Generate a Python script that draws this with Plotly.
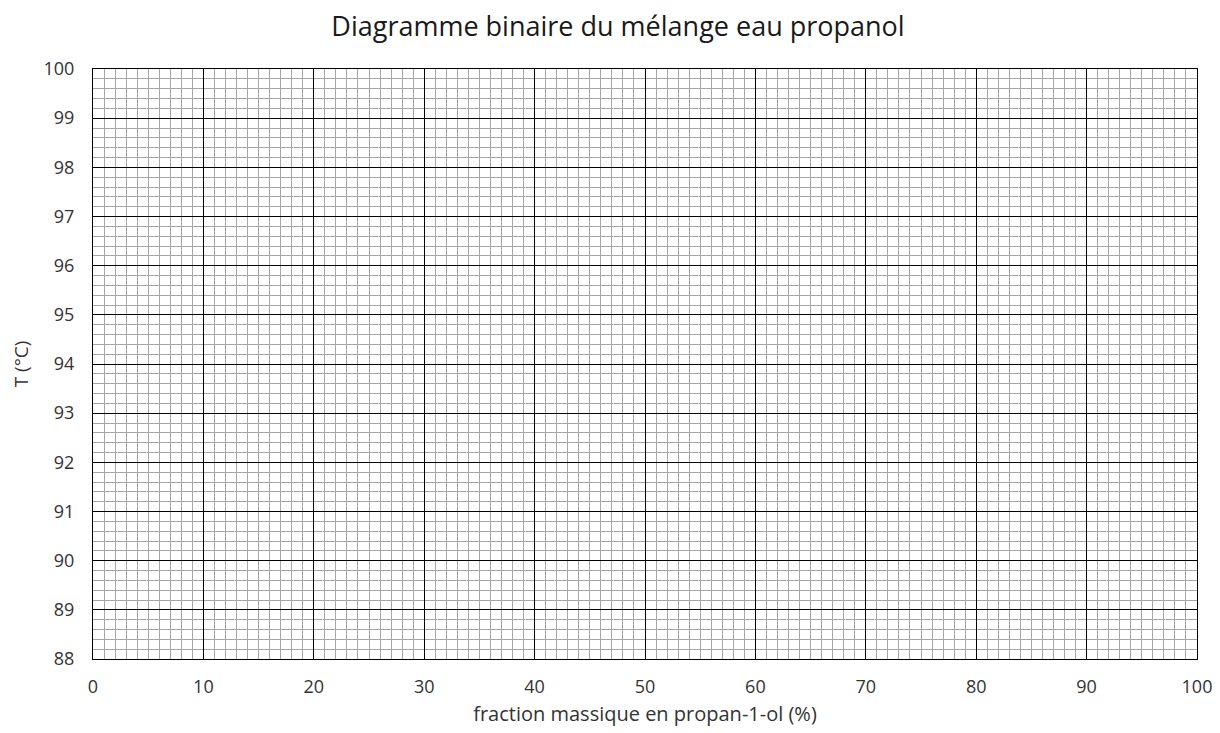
import plotly.graph_objects as go

x_range = [0, 100]
y_range = [88, 100]
x_ticks = [0, 10, 20, 30, 40, 50, 60, 70, 80, 90, 100]
y_ticks = [88, 89, 90, 91, 92, 93, 94, 95, 96, 97, 98, 99, 100]
title = "Diagramme binaire du mélange eau propanol"
x_title = "fraction massique en propan-1-ol (%)"
y_title = "T (°C)"

fig = go.Figure()
fig.add_trace(go.Scatter(x=[], y=[], mode="lines", showlegend=False))

font_family = "Open Sans, Liberation Sans, sans-serif"

fig.update_layout(
    width=1220, height=733,
    paper_bgcolor="white", plot_bgcolor="white",
    margin=dict(l=85, r=31, t=61, b=82),
    title=dict(text=title, x=0.5, xanchor="center", yref="container", y=0.975, yanchor="middle",
               font=dict(family=font_family, size=27, color="#1a1a1a")),
    font=dict(family=font_family, size=18, color="#333"),
    xaxis=dict(range=x_range, tickvals=x_ticks, showgrid=True, gridcolor="#000000", gridwidth=1,
               minor=dict(dtick=1, showgrid=True, gridcolor="#a6a6a6", gridwidth=1),
               showline=True, linecolor="#000", linewidth=1, mirror=True, zeroline=False,
               ticks="", ticklabelstandoff=11, tickfont=dict(size=18, color="#333"),
               title=dict(text=x_title, font=dict(size=20, color="#333"), standoff=10)),
    yaxis=dict(range=y_range, tickvals=y_ticks, showgrid=True, gridcolor="#000000", gridwidth=1,
               minor=dict(dtick=0.2, showgrid=True, gridcolor="#a6a6a6", gridwidth=1),
               showline=True, linecolor="#000", linewidth=1, mirror=True, zeroline=False,
               ticks="", ticklabelstandoff=14, tickfont=dict(size=18, color="#333"),
               title=dict(text=y_title, font=dict(size=19, color="#333"), standoff=10)),
)

fig.write_html("out.html")
